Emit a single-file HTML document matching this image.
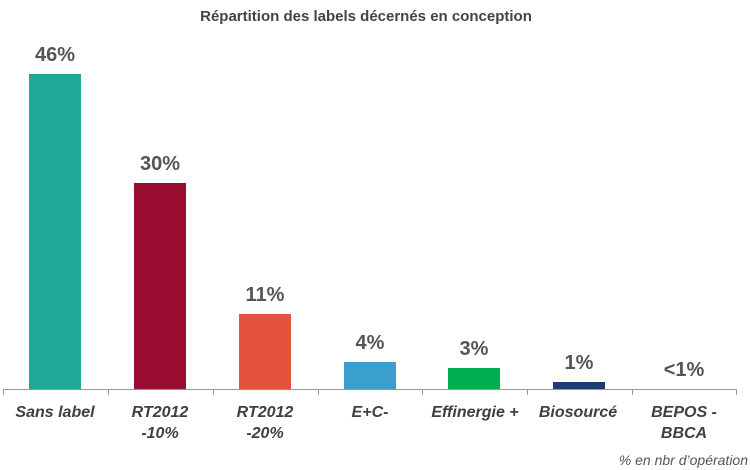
<!DOCTYPE html>
<html><head><meta charset="utf-8"><style>
body{margin:0;background:#fff;}
svg{display:block;font-family:"Liberation Sans",sans-serif;}
</style></head><body>
<svg width="750" height="470" xmlns="http://www.w3.org/2000/svg">
<text x="366" y="21" text-anchor="middle" font-size="15" font-weight="bold" fill="#444">Répartition des labels décernés en conception</text>
<g>
<rect x="29" y="74" width="52" height="315" fill="#1FA797"/>
<rect x="134" y="183" width="52" height="206" fill="#990D30"/>
<rect x="239" y="314" width="52" height="75" fill="#E5533F"/>
<rect x="344" y="362" width="52" height="27" fill="#3CA0CF"/>
<rect x="448" y="368" width="52" height="21" fill="#00B050"/>
<rect x="553" y="382" width="52" height="7" fill="#1F3C6E"/>
</g>
<g stroke="#999" stroke-width="1">
<line x1="3" y1="389.5" x2="737" y2="389.5"/>
<line x1="3.5" y1="389" x2="3.5" y2="395"/><line x1="108.5" y1="389" x2="108.5" y2="395"/>
<line x1="213.5" y1="389" x2="213.5" y2="395"/><line x1="318.5" y1="389" x2="318.5" y2="395"/>
<line x1="422.5" y1="389" x2="422.5" y2="395"/><line x1="527.5" y1="389" x2="527.5" y2="395"/>
<line x1="632.5" y1="389" x2="632.5" y2="395"/><line x1="736.5" y1="389" x2="736.5" y2="395"/>
</g>
<g font-size="20" font-weight="bold" fill="#555" text-anchor="middle">
<text x="55" y="61">46%</text><text x="160" y="170">30%</text><text x="265" y="301">11%</text>
<text x="370" y="349">4%</text><text x="474" y="355">3%</text><text x="579" y="369">1%</text><text x="684" y="376">&lt;1%</text>
</g>
<g font-size="16" font-style="italic" font-weight="bold" fill="#404040" text-anchor="middle">
<text x="55" y="417">Sans label</text>
<text x="160" y="417">RT2012</text><text x="160" y="438">-10%</text>
<text x="265" y="417">RT2012</text><text x="265" y="438">-20%</text>
<text x="370" y="417">E+C-</text>
<text x="475" y="417">Effinergie +</text>
<text x="578" y="417">Biosourcé</text>
<text x="684" y="417">BEPOS -</text><text x="684" y="438">BBCA</text>
</g>
<text x="748" y="465" text-anchor="end" font-size="14" font-style="italic" fill="#555">% en nbr d’opération</text>
</svg>
</body></html>
